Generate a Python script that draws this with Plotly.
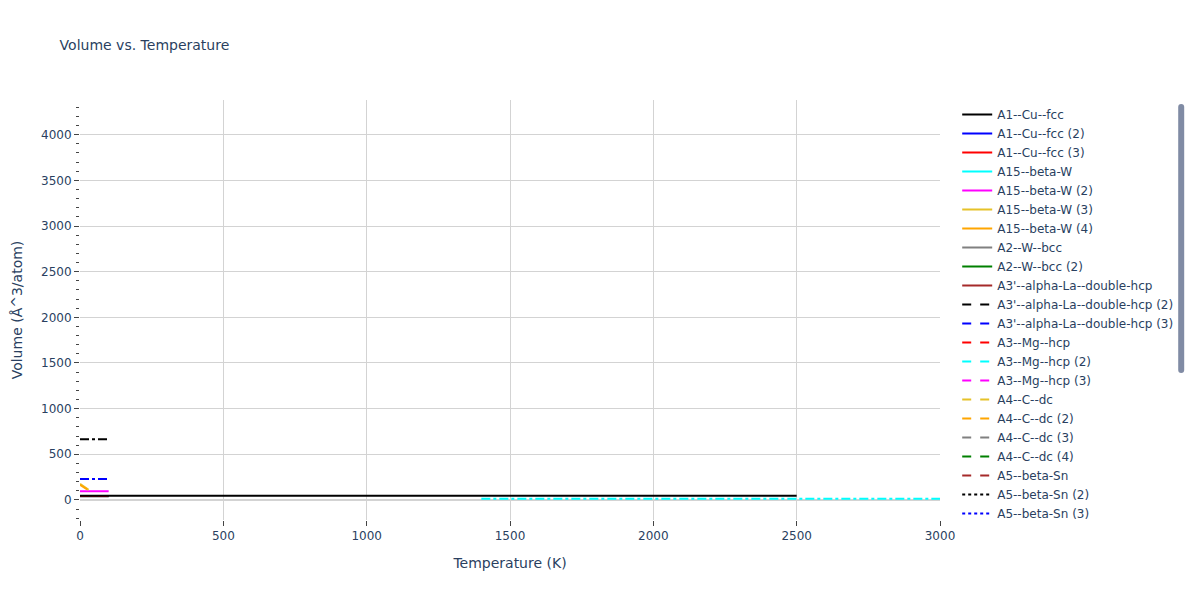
import plotly.graph_objects as go

names = ["A1--Cu--fcc","A1--Cu--fcc (2)","A1--Cu--fcc (3)","A15--beta-W","A15--beta-W (2)",
         "A15--beta-W (3)","A15--beta-W (4)","A2--W--bcc","A2--W--bcc (2)","A3'--alpha-La--double-hcp",
         "A3'--alpha-La--double-hcp (2)","A3'--alpha-La--double-hcp (3)","A3--Mg--hcp","A3--Mg--hcp (2)",
         "A3--Mg--hcp (3)","A4--C--dc","A4--C--dc (2)","A4--C--dc (3)","A4--C--dc (4)","A5--beta-Sn",
         "A5--beta-Sn (2)","A5--beta-Sn (3)","A5--beta-Sn (4)","A6--In--bct","A6--In--bct (2)",
         "A7--alpha-As","A7--alpha-As (2)","A8--gamma-Se","A9--graphite","A9--graphite (2)",
         "Ah--alpha-Po--sc","Ah--alpha-Po--sc (2)","Ah--alpha-Po--sc (3)","Ah--alpha-Po--sc (4)"]
colors = ["black","blue","red","cyan","magenta","#e6c229","orange","gray","green","brown"]
dashes = ["solid","dash","dot","dashdot"]

xs = {0:[0,2500], 4:[0,100], 5:[0,30], 6:[0,25], 30:[0,100], 31:[0,100], 33:[1400,3000]}
ys = {0:[45,45], 4:[95,95], 5:[175,110], 6:[165,115], 30:[665,665], 31:[230,230], 33:[12,12]}
default_x = [0,100]
default_y = [42,42]

fig = go.Figure()
for i, n in enumerate(names):
    special = i in xs
    fig.add_trace(go.Scatter(x=xs.get(i, default_x), y=ys.get(i, default_y), mode="lines", name=n,
                             zorder=0 if special else -1,
                             line=dict(color=colors[i % 10], dash=dashes[i // 10], width=2)))

fig.update_layout(
    width=1200, height=600, template="plotly_white",
    font=dict(family="Verdana, DejaVu Sans, sans-serif"),
    title=dict(text="Volume vs. Temperature", x=0.043, y=0.947, font=dict(size=14)),
    margin=dict(l=72, r=268, t=92, b=88),
    xaxis=dict(title="Temperature (K)", range=[0,3000], dtick=500, showline=True, linecolor="black",
               ticks="outside", gridcolor="lightgray", zeroline=False),
    yaxis=dict(title="Volume (Å^3/atom)", range=[-220,4380], dtick=500, showline=True, linecolor="black",
               ticks="outside", gridcolor="lightgray", zerolinecolor="lightgray", automargin=False,
               minor=dict(ticks="outside", dtick=100, showgrid=False)),
    legend=dict(font=dict(size=12), x=1.02, y=1),
)
fig.write_html("out.html")
